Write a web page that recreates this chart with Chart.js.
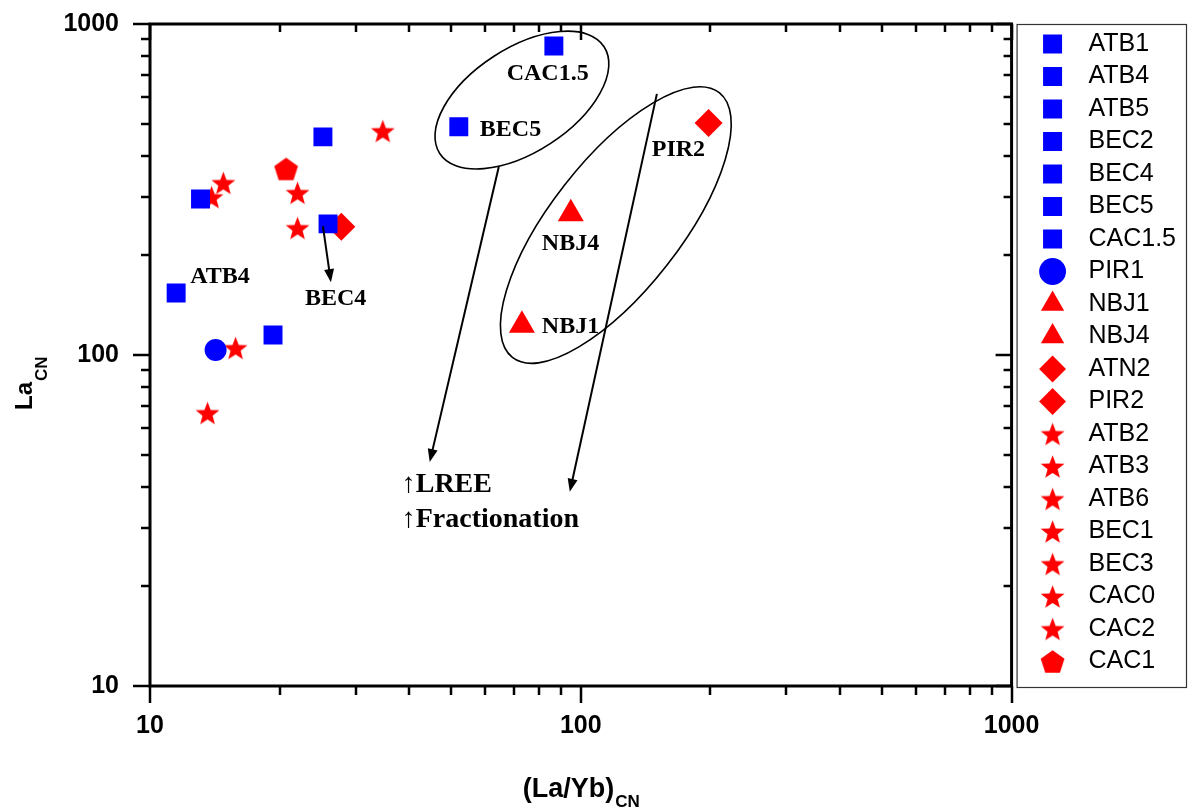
<!DOCTYPE html>
<html>
<head>
<meta charset="utf-8">
<script src="https://cdn.jsdelivr.net/npm/chart.js@4.4.0/dist/chart.umd.min.js"></script>
<style>
    html, body { margin: 0; padding: 0; background: #fff; }
    #wrap { width: 1189px; height: 807px; }
</style>
</head>
<body>
<div id="wrap"><canvas id="reeChart"></canvas></div>
<script>
// Samples in legend order
const samples = ['ATB1', 'ATB4', 'ATB5', 'BEC2', 'BEC4', 'BEC5', 'CAC1.5', 'PIR1', 'NBJ1', 'NBJ4',
                 'ATN2', 'PIR2', 'ATB2', 'ATB3', 'ATB6', 'BEC1', 'BEC3', 'CAC0', 'CAC2', 'CAC1'];
// (La/Yb)CN
const laYbCN = [13.1, 11.5, 19.3, 25.2, 25.9, 52.1, 86.6, 14.2, 73.0, 94.8,
                27.8, 198, 34.7, 14.8, 13.9, 22.0, 22.0, 15.8, 13.6, 20.7];
// LaCN
const laCN = [296, 154, 115, 456, 249, 489, 858, 103.5, 123, 267,
              244, 502, 475, 331, 300, 309, 242, 105, 66.8, 365];

const majorTicks = [10, 100, 1000];

// Annotations (data coordinates)
const noteLabels = [
    { text: 'CAC1.5', x: 67.3, y: 706 },
    { text: 'BEC5', x: 58.3, y: 478 },
    { text: 'PIR2', x: 146.1, y: 416 },
    { text: 'NBJ4', x: 81.2, y: 216 },
    { text: 'NBJ1', x: 81.2, y: 121.5 },
    { text: 'ATB4', x: 12.4, y: 172 },
    { text: 'BEC4', x: 22.9, y: 147.6 }
];
const trendLabels = [
    { text: '\u2191LREE', x: 38.4, y: 40.5 },
    { text: '\u2191Fractionation', x: 38.4, y: 31.7 }
];
const arrows = [
    { from: [25.2, 245], to: [26.3, 166] },
    { from: [64.5, 370], to: [44.6, 47.5] },
    { from: [150.2, 615], to: [94.3, 38.6] }
];
const ellipses = [
    { x: 73.0, y: 589, rx: 98, ry: 52, angle: -33 },
    { x: 120.6, y: 247, rx: 168, ry: 65, angle: -52 }
];

const BLUE = '#0000ff';
const RED = '#ff0000';

// Filled polygon marker drawn on a small canvas (stars, pentagon)
function polyMarker(points, outer, inner, color) {
    const size = Math.ceil(outer * 2) + 2;
    const c = document.createElement('canvas');
    c.width = c.height = size;
    const g = c.getContext('2d');
    const n = inner ? points * 2 : points;
    const bottom = Math.cos(Math.PI / points) * outer;
    const cy = size / 2 + (outer - bottom) / 2;
    g.beginPath();
    for (let i = 0; i < n; i++) {
        const rad = -Math.PI / 2 + i * 2 * Math.PI / n;
        const r = inner && i % 2 ? inner : outer;
        g.lineTo(size / 2 + r * Math.cos(rad), cy + r * Math.sin(rad));
    }
    g.closePath();
    g.fillStyle = color;
    g.fill();
    return c;
}

const starImg = polyMarker(5, 12.5, 5.3, RED);
const pentaImg = polyMarker(5, 12.5, 0, RED);

const markerStyles = {
    square: { pointStyle: 'rect', radius: 13.4, color: BLUE },
    circle: { pointStyle: 'circle', radius: 11, color: BLUE },
    triangle: { pointStyle: 'triangle', radius: 15, color: RED },
    diamond: { pointStyle: 'rectRot', radius: 14, color: RED },
    star: { pointStyle: starImg, radius: 12, color: RED },
    pentagon: { pointStyle: pentaImg, radius: 12, color: RED }
};
const markerOf = ['square', 'square', 'square', 'square', 'square', 'square', 'square', 'circle', 'triangle', 'triangle',
                  'diamond', 'diamond', 'star', 'star', 'star', 'star', 'star', 'star', 'star', 'pentagon'];

const datasets = samples.map((name, i) => {
    const m = markerStyles[markerOf[i]];
    return {
        label: name,
        data: [{ x: laYbCN[i], y: laCN[i] }],
        pointStyle: m.pointStyle,
        pointRadius: m.radius,
        backgroundColor: m.color,
        borderColor: m.color,
        borderWidth: 0
    };
});

Chart.defaults.color = '#000';
Chart.defaults.font.family = 'Arial, "Liberation Sans", sans-serif';

function drawArrow(ctx, x1, y1, x2, y2) {
    const ang = Math.atan2(y2 - y1, x2 - x1);
    const len = 13, half = 5;
    ctx.beginPath();
    ctx.moveTo(x1, y1);
    ctx.lineTo(x2 - Math.cos(ang) * len * 0.8, y2 - Math.sin(ang) * len * 0.8);
    ctx.stroke();
    ctx.beginPath();
    ctx.moveTo(x2, y2);
    ctx.lineTo(x2 - Math.cos(ang) * len - Math.sin(ang) * half, y2 - Math.sin(ang) * len + Math.cos(ang) * half);
    ctx.lineTo(x2 - Math.cos(ang) * len + Math.sin(ang) * half, y2 - Math.sin(ang) * len - Math.cos(ang) * half);
    ctx.closePath();
    ctx.fill();
}

// Origin-style frame: outward ticks left/bottom, inward ticks top/right, plus notes and axis titles
const framePlugin = {
    id: 'frame',
    afterDraw(chart) {
        const { ctx, chartArea: a, scales: { x, y } } = chart;
        ctx.save();
        ctx.strokeStyle = '#000';
        ctx.fillStyle = '#000';

        const tickValues = [];
        for (let d = 10; d < 1000; d *= 10) {
            for (let k = 1; k < 10; k++) tickValues.push(k * d);
        }
        tickValues.push(1000);

        ctx.lineWidth = 2.5;
        ctx.beginPath();
        tickValues.forEach(v => {
            const major = majorTicks.includes(v);
            const out = major ? 17 : 9;
            const inn = major ? 16 : 8;
            const px = Math.round(x.getPixelForValue(v));
            const py = Math.round(y.getPixelForValue(v));
            ctx.moveTo(px, a.bottom); ctx.lineTo(px, a.bottom + out);
            ctx.moveTo(px, a.top); ctx.lineTo(px, a.top + inn);
            ctx.moveTo(a.left - out, py); ctx.lineTo(a.left, py);
            ctx.moveTo(a.right - inn, py); ctx.lineTo(a.right, py);
        });
        ctx.stroke();

        ctx.lineWidth = 3;
        ctx.strokeRect(a.left, a.top, a.right - a.left, a.bottom - a.top);

        // legend box
        const lg = chart.legend;
        ctx.lineWidth = 1.2;
        ctx.strokeStyle = '#333';
        ctx.strokeRect(a.right + 5.5, a.top + 0.5, lg.right - a.right - 5, a.bottom - a.top + 1);
        ctx.strokeStyle = '#000';

        // ellipses
        ctx.lineWidth = 1.6;
        ellipses.forEach(e => {
            ctx.beginPath();
            ctx.ellipse(x.getPixelForValue(e.x), y.getPixelForValue(e.y), e.rx, e.ry, e.angle * Math.PI / 180, 0, Math.PI * 2);
            ctx.stroke();
        });

        // arrows
        ctx.lineWidth = 2;
        arrows.forEach(ar => {
            drawArrow(ctx,
                x.getPixelForValue(ar.from[0]), y.getPixelForValue(ar.from[1]),
                x.getPixelForValue(ar.to[0]), y.getPixelForValue(ar.to[1]));
        });

        // sample notes
        ctx.textBaseline = 'middle';
        ctx.textAlign = 'left';
        ctx.font = 'bold 24px "Liberation Serif", "Times New Roman", serif';
        noteLabels.forEach(n => ctx.fillText(n.text, x.getPixelForValue(n.x), y.getPixelForValue(n.y)));
        ctx.font = 'bold 28px "Liberation Serif", "Times New Roman", serif';
        trendLabels.forEach(n => ctx.fillText(n.text, x.getPixelForValue(n.x), y.getPixelForValue(n.y)));

        // axis titles with subscripts
        ctx.textBaseline = 'alphabetic';
        const mainFont = 'bold 27px Arial, "Liberation Sans", sans-serif';
        const subFont = 'bold 17px Arial, "Liberation Sans", sans-serif';
        ctx.font = mainFont;
        const wMain = ctx.measureText('(La/Yb)').width;
        ctx.font = subFont;
        const wSub = ctx.measureText('CN').width;
        const x0 = (a.left + a.right) / 2 - (wMain + wSub) / 2;
        ctx.font = mainFont;
        ctx.fillText('(La/Yb)', x0, 797);
        ctx.font = subFont;
        ctx.fillText('CN', x0 + wMain + 1, 807);

        ctx.translate(32, 410);
        ctx.rotate(-Math.PI / 2);
        ctx.font = 'bold 24px Arial, "Liberation Sans", sans-serif';
        const wLa = ctx.measureText('La').width;
        ctx.fillText('La', 0, 0);
        ctx.font = subFont;
        ctx.fillText('CN', wLa + 1, 15);
        ctx.restore();
    }
};

const ctx = document.getElementById('reeChart').getContext('2d');

new Chart(ctx, {
    type: 'scatter',
    data: { datasets: datasets },
    options: {
        responsive: true,
        maintainAspectRatio: false,
        animation: false,
        events: [],
        layout: { padding: { top: 24, right: 3, bottom: 0, left: 0 } },
        scales: {
            x: {
                type: 'logarithmic',
                position: 'bottom',
                min: 10,
                max: 1000,
                grid: { display: false, drawTicks: false, tickLength: 0 },
                border: { display: false },
                afterBuildTicks: s => { s.ticks = majorTicks.map(v => ({ value: v })); },
                afterFit: s => { s.height = 121; s.paddingLeft = 0; s.paddingRight = 0; },
                ticks: {
                    autoSkip: false,
                    maxRotation: 0,
                    padding: 25,
                    font: { size: 25, weight: 'bold' },
                    callback: v => String(v)
                }
            },
            y: {
                type: 'logarithmic',
                position: 'left',
                min: 10,
                max: 1000,
                grid: { display: false, drawTicks: false, tickLength: 0 },
                border: { display: false },
                afterBuildTicks: s => { s.ticks = majorTicks.map(v => ({ value: v })); },
                afterFit: s => { s.width = 150; s.paddingTop = 0; s.paddingBottom = 0; },
                ticks: {
                    autoSkip: false,
                    padding: 31,
                    font: { size: 25, weight: 'bold' },
                    callback: v => String(v)
                }
            },
            gap: {
                type: 'linear',
                position: 'right',
                display: true,
                grid: { display: false, drawTicks: false },
                border: { display: false },
                ticks: { display: false },
                afterFit: s => { s.width = 24; }
            }
        },
        plugins: {
            legend: {
                position: 'right',
                align: 'start',
                labels: {
                    usePointStyle: true,
                    boxWidth: 19,
                    boxHeight: 19,
                    padding: 7.5,
                    color: '#000',
                    font: { size: 25 },
                    generateLabels: chart =>
                        Chart.defaults.plugins.legend.labels.generateLabels(chart)
                            .map(item => Object.assign(item, { text: '  ' + item.text }))
                }
            },
            tooltip: { enabled: false }
        }
    },
    plugins: [framePlugin]
});
</script>
</body>
</html>
